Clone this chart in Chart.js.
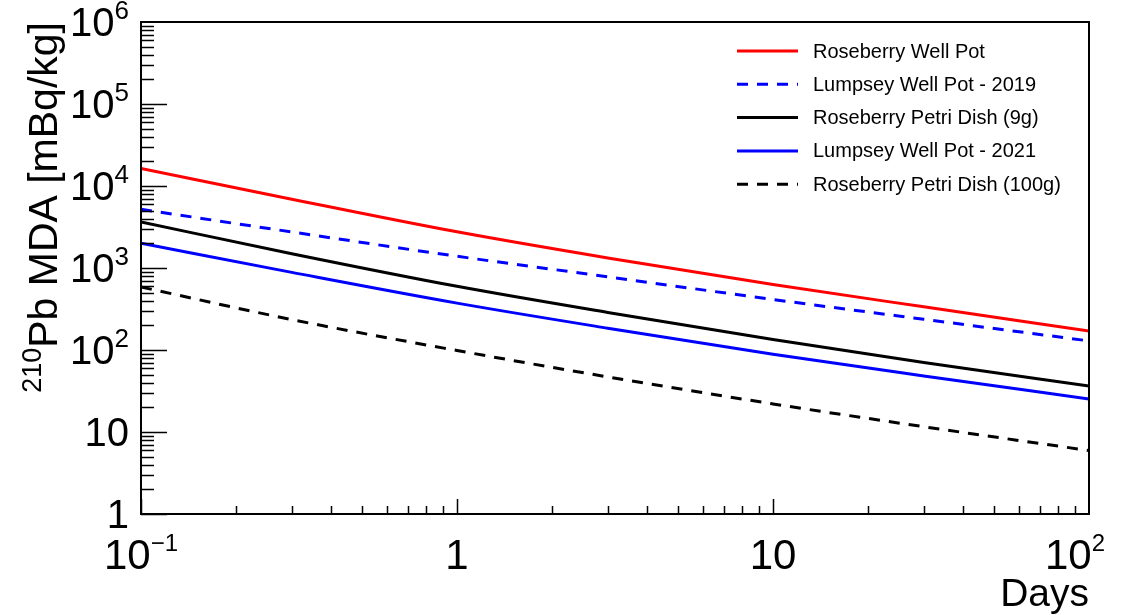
<!DOCTYPE html>
<html>
<head>
<meta charset="utf-8">
<title>210Pb MDA vs Days</title>
<script src="https://cdn.jsdelivr.net/npm/chart.js@4.4.1/dist/chart.umd.min.js"></script>
<style>
    body { margin: 0; background: #ffffff; }
    #mdaChart { display: block; }
</style>
</head>
<body>
<canvas id="mdaChart" width="1126" height="615"></canvas>
<script>
// values (days, mBq/kg)
var days = [0.1, 0.3, 1, 3, 10, 30, 100];
var roseberryWellPot = [16400, 6900, 2760, 1325, 630, 336, 171];
var lumpseyWellPot2019 = [5200, 2750, 1390, 781, 413, 237, 129];
var roseberryPetri9g = [3640, 1494, 598, 287, 134, 70.6, 36.4];
var lumpseyWellPot2021 = [2000, 884, 373, 184.5, 88.7, 48.2, 25.3];
var roseberryPetri100g = [586, 235, 98.6, 47, 22, 11.6, 5.94];

var seriesNames = ["Roseberry Well Pot", "Lumpsey Well Pot - 2019", "Roseberry Petri Dish (9g)",
    "Lumpsey Well Pot - 2021", "Roseberry Petri Dish (100g)"];

// tick labels as [base, exponent]
var xTickValues = [0.1, 1, 10, 100];
var xTickLabels = [["10", "\u22121"], ["1", ""], ["10", ""], ["10", "2"]];
var yTickValues = [1, 10, 100, 1000, 10000, 100000, 1000000];
var yTickLabels = [["1", ""], ["10", ""], ["10", "2"], ["10", "3"], ["10", "4"], ["10", "5"], ["10", "6"]];

var FONT = "'Liberation Sans', Arial, Helvetica, sans-serif";

function toPoints(values) {
    var pts = [];
    for (var i = 0; i < days.length; i++) {
        pts.push({ x: days[i], y: values[i] });
    }
    return pts;
}

function makeDataset(label, values, color, dash) {
    return {
        label: label,
        data: toPoints(values),
        borderColor: color,
        borderWidth: 3,
        borderDash: dash,
        pointRadius: 0,
        fill: false,
        cubicInterpolationMode: 'monotone'
    };
}

// text with a superscript exponent, like ROOT's 10^{n}
function drawPower(ctx, base, exp, x, y, size, expScale, align) {
    var expSize = Math.round(size * expScale);
    ctx.font = size + "px " + FONT;
    var wBase = ctx.measureText(base).width;
    ctx.font = expSize + "px " + FONT;
    var wExp = exp ? ctx.measureText(exp).width : 0;
    var total = wBase + wExp;
    var left = x;
    if (align === 'right') left = x - total;
    if (align === 'center') left = x - total / 2;
    ctx.textAlign = 'left';
    ctx.textBaseline = 'alphabetic';
    ctx.font = size + "px " + FONT;
    ctx.fillText(base, left, y);
    if (exp) {
        ctx.font = expSize + "px " + FONT;
        ctx.fillText(exp, left + wBase, y - size * 0.42);
    }
}

var rootFrame = {
    id: 'rootFrame',
    afterDraw: function (chart) {
        var ctx = chart.ctx;
        var area = chart.chartArea;
        var xs = chart.scales.x;
        var ys = chart.scales.y;
        var d, m, p, i;

        ctx.save();
        ctx.strokeStyle = '#000000';
        ctx.fillStyle = '#000000';

        // frame
        ctx.lineWidth = 2;
        ctx.strokeRect(area.left, area.top, area.right - area.left, area.bottom - area.top);

        // y ticks (inside, left side)
        ctx.lineWidth = 1.5;
        ctx.beginPath();
        for (d = 0; d < 6; d++) {
            for (m = 1; m <= 9; m++) {
                p = Math.round(ys.getPixelForValue(m * Math.pow(10, d))) + 0.5;
                ctx.moveTo(area.left, p);
                ctx.lineTo(area.left + (m === 1 ? 26 : 13), p);
            }
        }
        ctx.stroke();

        // x ticks (inside, bottom)
        ctx.beginPath();
        for (d = -1; d < 2; d++) {
            for (m = 1; m <= 9; m++) {
                p = Math.round(xs.getPixelForValue(m * Math.pow(10, d))) + 0.5;
                ctx.moveTo(p, area.bottom);
                ctx.lineTo(p, area.bottom - (m === 1 ? 15 : 8));
            }
        }
        ctx.stroke();

        // tick labels
        for (i = 0; i < yTickValues.length; i++) {
            p = ys.getPixelForValue(yTickValues[i]);
            drawPower(ctx, yTickLabels[i][0], yTickLabels[i][1], area.left - 12, p + 14, 40, 0.65, 'right');
        }
        for (i = 0; i < xTickValues.length; i++) {
            p = xs.getPixelForValue(xTickValues[i]);
            // last label is pulled in from the pad edge
            if (i === xTickValues.length - 1) p -= 14;
            drawPower(ctx, xTickLabels[i][0], xTickLabels[i][1], p, area.bottom + 55, 42, 0.58, 'center');
        }

        // axis titles
        ctx.font = "39px " + FONT;
        ctx.textAlign = 'right';
        ctx.fillText("Days", area.right, 606);

        ctx.save();
        ctx.translate(57, area.top);
        ctx.rotate(-Math.PI / 2);
        ctx.font = "41px " + FONT;
        var title = "Pb MDA [mBq/kg]";
        var wTitle = ctx.measureText(title).width;
        ctx.textAlign = 'right';
        ctx.fillText(title, 0, 0);
        ctx.font = "27px " + FONT;
        ctx.fillText("210", -wTitle, -16);
        ctx.restore();

        // legend
        ctx.font = "20px " + FONT;
        ctx.textAlign = 'left';
        ctx.textBaseline = 'middle';
        var sets = chart.data.datasets;
        for (i = 0; i < sets.length; i++) {
            var rowY = 51 + i * 33.3;
            ctx.strokeStyle = sets[i].borderColor;
            ctx.lineWidth = 3;
            ctx.setLineDash(sets[i].borderDash || []);
            ctx.beginPath();
            ctx.moveTo(737, rowY);
            ctx.lineTo(798, rowY);
            ctx.stroke();
            ctx.setLineDash([]);
            ctx.fillStyle = '#000000';
            ctx.fillText(sets[i].label, 813, rowY + 1);
        }
        ctx.restore();
    }
};

function bindMdaChart() {
    var ctx = document.getElementById("mdaChart").getContext('2d');
    var mdaChart = new Chart(ctx, {
        type: 'line',
        data: {
            datasets: [
                makeDataset(seriesNames[0], roseberryWellPot, "#ff0000", []),
                makeDataset(seriesNames[1], lumpseyWellPot2019, "#0000ff", [11, 9]),
                makeDataset(seriesNames[2], roseberryPetri9g, "#000000", []),
                makeDataset(seriesNames[3], lumpseyWellPot2021, "#0000ff", []),
                makeDataset(seriesNames[4], roseberryPetri100g, "#000000", [11, 9])
            ]
        },
        options: {
            responsive: false,
            animation: false,
            devicePixelRatio: 1,
            layout: { padding: { left: 141, right: 37, top: 22, bottom: 101 } },
            plugins: {
                legend: { display: false },
                tooltip: { enabled: false }
            },
            scales: {
                x: {
                    type: 'logarithmic',
                    min: 0.1,
                    max: 100,
                    grid: { display: false, drawTicks: false },
                    border: { display: false },
                    ticks: { display: false }
                },
                y: {
                    type: 'logarithmic',
                    min: 1,
                    max: 1000000,
                    grid: { display: false, drawTicks: false },
                    border: { display: false },
                    ticks: { display: false }
                }
            }
        },
        plugins: [rootFrame]
    });
}

bindMdaChart();
</script>
</body>
</html>
